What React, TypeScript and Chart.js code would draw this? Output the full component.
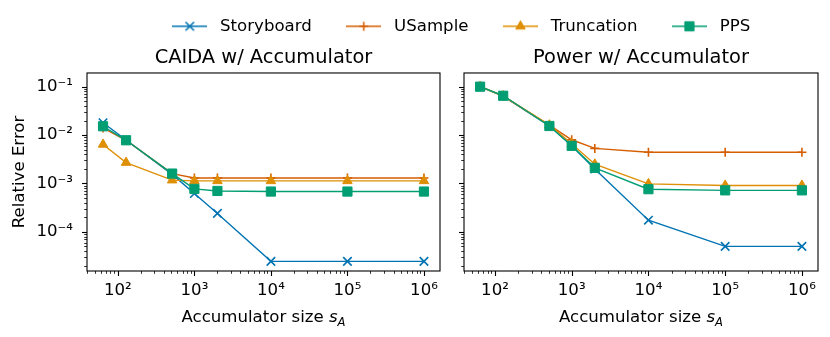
import React, { useEffect, useRef } from 'react';
import { Chart, registerables } from 'chart.js';
import { drawPoint } from 'chart.js/helpers';

Chart.register(...registerables);

const FONT = "'DejaVu Sans', sans-serif";

const seriesNames = ['Storyboard', 'USample', 'Truncation', 'PPS'];
const accumulatorSizes = [64, 128, 512, 1000, 2000, 10000, 100000, 1000000];

const caidaStoryboard = [0.018, 0.0079, 0.00154, 0.00062, 0.00024, 0.0000245, 0.0000245, 0.0000245];
const caidaUSample = [0.014, 0.0078, 0.0016, 0.0013, 0.0013, 0.0013, 0.0013, 0.0013];
const caidaTruncation = [0.0064, 0.0027, 0.00117, 0.00113, 0.00113, 0.00113, 0.00113, 0.00113];
const caidaPPS = [0.0152, 0.0078, 0.0016, 0.00077, 0.0007, 0.00068, 0.00068, 0.00068];

const powerStoryboard = [0.1, 0.064, 0.0154, 0.006, 0.002, 0.000174, 0.00005, 0.00005];
const powerUSample = [0.102, 0.064, 0.016, 0.008, 0.0053, 0.0044, 0.0044, 0.0044];
const powerTruncation = [0.1, 0.064, 0.016, 0.0066, 0.0025, 0.00098, 0.00091, 0.00091];
const powerPPS = [0.1, 0.065, 0.0154, 0.006, 0.0021, 0.00076, 0.00072, 0.00072];

const xTickValues = [1e2, 1e3, 1e4, 1e5, 1e6];
const xTickLabels = ['10²', '10³', '10⁴', '10⁵', '10⁶'];
const yTickValues = [1e-4, 1e-3, 1e-2, 1e-1];
const yTickLabels = ['10⁻⁴', '10⁻³', '10⁻²', '10⁻¹'];
const xLimits = [39.5, 1.62e6];
const yLimits = [1.55e-5, 0.192];

const titles = ['CAIDA w/ Accumulator', 'Power w/ Accumulator'];
const yAxisTitle = 'Relative Error';
const xAxisTitle = 'Accumulator size ';
const xAxisSymbol = 's';
const xAxisSubscript = 'A';

const seriesStyles: any[] = [
  { color: '#0173b2', pointStyle: 'crossRot', radius: 6, pbw: 1.6 },
  { color: '#d55e00', pointStyle: 'cross', radius: 4.5, pbw: 1.6 },
  { color: '#de8f05', pointStyle: 'triangle', radius: 5.5, pbw: 1 },
  { color: '#029e73', pointStyle: 'rect', radius: 6.5, pbw: 1 },
];

function buildDatasets(values: number[][]) {
  const ds = seriesNames.map((name, i) => {
    const st = seriesStyles[i];
    return {
      label: name,
      data: accumulatorSizes.map((x, j) => ({ x, y: values[i][j] })),
      borderColor: st.color,
      backgroundColor: st.color,
      borderWidth: 1.4,
      pointStyle: st.pointStyle,
      pointRadius: st.radius,
      pointHoverRadius: st.radius,
      pointBorderWidth: st.pbw,
      pointBackgroundColor: st.color,
      pointBorderColor: st.color,
      tension: 0,
    };
  });
  return ds.reverse();
}

const framePlugin = {
  id: 'frame',
  afterDraw(chart: any) {
    const { ctx, chartArea: a, scales } = chart;
    const xs = scales.x;
    const ys = scales.y;
    ctx.save();
    ctx.strokeStyle = '#000';
    for (let e = -7; e <= 8; e++) {
      for (let m = 1; m <= 9; m++) {
        const v = m * Math.pow(10, e);
        const len = m === 1 ? 5 : 2.8;
        ctx.lineWidth = m === 1 ? 1.1 : 0.8;
        if (v >= xs.min && v <= xs.max) {
          const px = Math.round(xs.getPixelForValue(v)) + 0.5;
          ctx.beginPath();
          ctx.moveTo(px, a.bottom);
          ctx.lineTo(px, a.bottom + len);
          ctx.stroke();
        }
        if (v >= ys.min && v <= ys.max) {
          const py = Math.round(ys.getPixelForValue(v)) + 0.5;
          ctx.beginPath();
          ctx.moveTo(a.left - len, py);
          ctx.lineTo(a.left, py);
          ctx.stroke();
        }
      }
    }
    ctx.lineWidth = 1.1;
    ctx.strokeRect(a.left, a.top, a.right - a.left, a.bottom - a.top);
    // x axis title with italic subscripted symbol
    const base = `16.6px ${FONT}`;
    const ital = `oblique 16.6px ${FONT}`;
    const sub = `oblique 11.6px ${FONT}`;
    ctx.fillStyle = '#000';
    ctx.textBaseline = 'alphabetic';
    ctx.textAlign = 'left';
    ctx.font = base;
    const w1 = ctx.measureText(xAxisTitle).width;
    ctx.font = ital;
    const w2 = ctx.measureText(xAxisSymbol).width;
    ctx.font = sub;
    const w3 = ctx.measureText(xAxisSubscript).width;
    const total = w1 + w2 + w3;
    let x0 = (a.left + a.right) / 2 - total / 2;
    const yb = 322;
    ctx.font = base;
    ctx.fillText(xAxisTitle, x0, yb);
    x0 += w1;
    ctx.font = ital;
    ctx.fillText(xAxisSymbol, x0, yb);
    x0 += w2;
    ctx.font = sub;
    ctx.fillText(xAxisSubscript, x0, yb + 3.5);
    ctx.restore();
  },
};

function makeChart(canvas: HTMLCanvasElement, idx: number, values: number[][]) {
  const showY = idx === 0;
  return new Chart(canvas, {
    type: 'line',
    data: { datasets: buildDatasets(values) as any },
    options: {
      animation: false,
      responsive: false,
      events: [],
      layout: { padding: { left: 0, right: 12, top: 46.7, bottom: 0 } },
      plugins: {
        legend: { display: false },
        tooltip: { enabled: false },
        title: {
          display: true,
          text: titles[idx],
          fullSize: false,
          color: '#000',
          font: { family: FONT, size: 19.4, weight: 'normal' },
          padding: { top: 0, bottom: 3 },
        } as any,
      },
      scales: {
        x: {
          type: 'logarithmic',
          min: xLimits[0],
          max: xLimits[1],
          grid: { display: false, drawTicks: false },
          border: { display: false },
          ticks: {
            autoSkip: false,
            maxRotation: 0,
            padding: 10,
            color: '#000',
            font: { family: FONT, size: 16.6 },
            callback: (_v: any, i: number) => xTickLabels[i],
          },
          afterBuildTicks: (s: any) => {
            s.ticks = xTickValues.map((v) => ({ value: v }));
          },
          afterFit: (s: any) => {
            s.height = 66;
          },
        },
        y: {
          type: 'logarithmic',
          min: yLimits[0],
          max: yLimits[1],
          grid: { display: false, drawTicks: false },
          border: { display: false },
          title: {
            display: showY,
            text: yAxisTitle,
            color: '#000',
            font: { family: FONT, size: 16.6 },
            padding: { top: 10, bottom: 0 },
          },
          ticks: {
            autoSkip: false,
            padding: 14,
            color: '#000',
            font: { family: FONT, size: 16.6 },
            callback: (_v: any, i: number) => (showY ? yTickLabels[i] : ''),
          },
          afterBuildTicks: (s: any) => {
            s.ticks = yTickValues.map((v) => ({ value: v }));
          },
          afterFit: (s: any) => {
            s.width = showY ? 87 : 12;
          },
        },
      },
    } as any,
    plugins: [framePlugin],
  });
}

function makeIcon(i: number) {
  const st = seriesStyles[i];
  const c = document.createElement('canvas');
  c.width = 35;
  c.height = 16;
  const ctx = c.getContext('2d') as CanvasRenderingContext2D;
  ctx.strokeStyle = st.color;
  ctx.fillStyle = st.color;
  ctx.lineWidth = 1.4;
  ctx.beginPath();
  ctx.moveTo(0, 8);
  ctx.lineTo(35, 8);
  ctx.stroke();
  ctx.lineWidth = st.pbw;
  drawPoint(ctx, { pointStyle: st.pointStyle, radius: st.radius, rotation: 0, borderWidth: st.pbw } as any, 17.5, 8);
  return c;
}

function makeLegend(canvas: HTMLCanvasElement) {
  return new Chart(canvas, {
    type: 'line',
    data: {
      datasets: seriesNames.map((name, i) => ({
        label: name,
        data: [],
        borderColor: seriesStyles[i].color,
        backgroundColor: seriesStyles[i].color,
      })),
    },
    options: {
      animation: false,
      responsive: false,
      events: [],
      scales: { x: { display: false }, y: { display: false } },
      plugins: {
        tooltip: { enabled: false },
        legend: {
          display: true,
          position: 'top',
          labels: {
            usePointStyle: true,
            pointStyleWidth: 44,
            padding: 30,
            color: '#000',
            font: { family: FONT, size: 16.6 },
            generateLabels: () =>
              seriesNames.map((name, i) => ({
                text: name,
                pointStyle: makeIcon(i),
                fillStyle: seriesStyles[i].color,
                strokeStyle: seriesStyles[i].color,
                lineWidth: 0,
                hidden: false,
                datasetIndex: i,
                fontColor: '#000',
              })),
          },
        },
      },
    } as any,
  });
}

export default function App() {
  const legRef = useRef<HTMLCanvasElement>(null);
  const leftRef = useRef<HTMLCanvasElement>(null);
  const rightRef = useRef<HTMLCanvasElement>(null);
  useEffect(() => {
    const charts = [
      makeLegend(legRef.current!),
      makeChart(leftRef.current!, 0, [caidaStoryboard, caidaUSample, caidaTruncation, caidaPPS]),
      makeChart(rightRef.current!, 1, [powerStoryboard, powerUSample, powerTruncation, powerPPS]),
    ];
    return () => charts.forEach((c) => c.destroy());
  }, []);
  return (
    <div style={{ position: 'absolute', left: 0, top: 0, width: 830, height: 337, overflow: 'hidden', background: '#fff' }}>
      <canvas ref={leftRef} width={452} height={337} style={{ position: 'absolute', left: 0, top: 0, width: 452, height: 337 }} />
      <canvas ref={rightRef} width={378} height={337} style={{ position: 'absolute', left: 452, top: 0, width: 378, height: 337 }} />
      <canvas ref={legRef} width={740} height={160} style={{ position: 'absolute', left: 89, top: -12, width: 740, height: 160, pointerEvents: 'none' }} />
    </div>
  );
}
